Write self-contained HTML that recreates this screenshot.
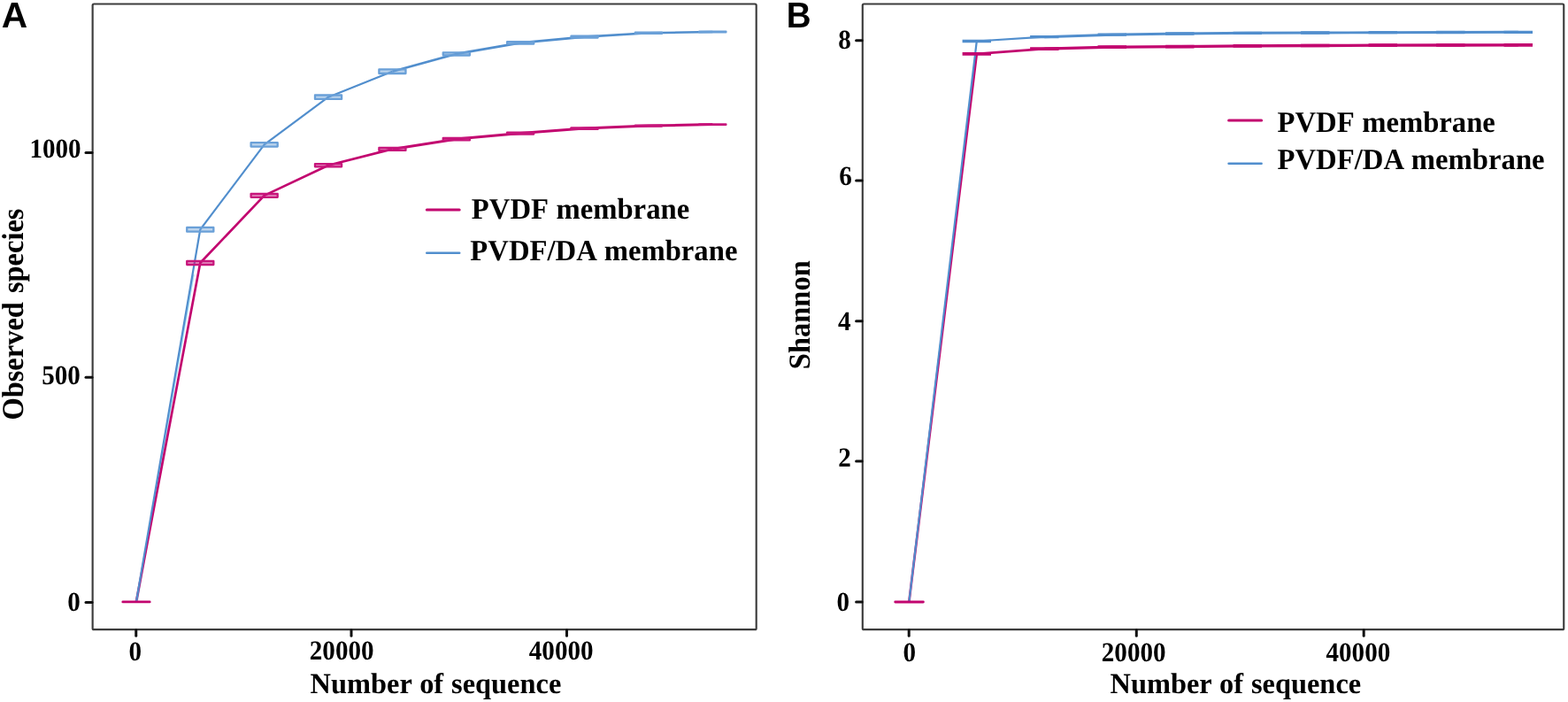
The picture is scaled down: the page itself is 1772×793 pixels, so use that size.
<!DOCTYPE html>
<html lang="en"><head><meta charset="utf-8"><title>Rarefaction curves</title>
<style>
html,body{margin:0;padding:0;background:#fff;}
body{width:1772px;height:793px;overflow:hidden;}
svg{display:block;filter:blur(0.45px);}
text{text-rendering:geometricPrecision;}
.serif{font-family:"Liberation Serif","DejaVu Serif",serif;font-weight:bold;font-size:100px;fill:#000;}
.sans{font-family:"Liberation Sans","DejaVu Sans",sans-serif;font-weight:bold;font-size:100px;fill:#000;}
</style></head><body>
<svg width="1772" height="793" viewBox="0 0 1772 793">
<rect x="0" y="0" width="1772" height="793" fill="#ffffff"/>
<g id="panelA">
<rect x="104.65" y="4.5" width="750.05" height="706.65" rx="1.5" fill="none" stroke="#3c3c3c" stroke-width="2.15"/>
<line x1="97.0" x2="104.05000000000001" y1="680.4" y2="680.4" stroke="#111" stroke-width="3.0" stroke-linecap="round"/>
<line x1="97.0" x2="104.05000000000001" y1="426.3" y2="426.3" stroke="#111" stroke-width="3.0" stroke-linecap="round"/>
<line x1="97.0" x2="104.05000000000001" y1="172.6" y2="172.6" stroke="#111" stroke-width="3.0" stroke-linecap="round"/>
<line x1="153.75" x2="153.75" y1="711.75" y2="718.2" stroke="#111" stroke-width="3.0" stroke-linecap="round"/>
<line x1="397" x2="397" y1="711.75" y2="718.2" stroke="#111" stroke-width="3.0" stroke-linecap="round"/>
<line x1="640.5" x2="640.5" y1="711.75" y2="718.2" stroke="#111" stroke-width="3.0" stroke-linecap="round"/>
<text class="serif" transform="translate(90.9,689.5) scale(0.2911,0.3090)" text-anchor="end">0</text>
<text class="serif" transform="translate(90.9,434.0) scale(0.2911,0.3090)" text-anchor="end">500</text>
<text class="serif" transform="translate(91.6,178.1) scale(0.2911,0.3090)" text-anchor="end">1000</text>
<text class="serif" transform="translate(152.8,745.5) scale(0.2911,0.3090)" text-anchor="middle">0</text>
<text class="serif" transform="translate(386.2,745.3) scale(0.2911,0.3090)" text-anchor="middle">20000</text>
<text class="serif" transform="translate(634.2,745.3) scale(0.2911,0.3090)" text-anchor="middle">40000</text>
<text class="serif" transform="translate(350.6,783.3) scale(0.3241,0.3270)" text-anchor="start" style="word-spacing:2.47px">Number of sequence</text>
<text class="serif" transform="translate(25.8,474.6) rotate(-90) scale(0.3247,0.3440)" text-anchor="start" style="word-spacing:5.85px">Observed species</text>
<text class="sans" transform="translate(1.8,31.15) scale(0.4070,0.4070)" text-anchor="start">A</text>
<line x1="155.10" y1="678" x2="218.76" y2="310" stroke="#a6e0f6" stroke-width="2"/>
<polyline points="153.90,680.00 226.28,297.00 298.66,220.90 371.04,186.70 443.42,168.40" fill="none" stroke="#C2056F" stroke-width="2.7" stroke-linejoin="round"/>
<polyline points="443.42,168.40 515.80,157.10 588.18,150.60 660.56,145.10 732.94,142.10 805.32,140.60" fill="none" stroke="#C2056F" stroke-width="3.0" stroke-linejoin="round"/>
<polyline points="153.90,680.00 226.28,259.30 298.66,163.40 371.04,109.70 443.42,80.70" fill="none" stroke="#518ECD" stroke-width="2.2" stroke-linejoin="round"/>
<polyline points="443.42,80.70 515.80,60.90 588.18,48.40 660.56,41.60 732.94,37.30 805.32,36.00" fill="none" stroke="#518ECD" stroke-width="2.6" stroke-linejoin="round"/>
<rect x="211.23" y="295.00" width="30.10" height="4.00" fill="#C7157B" fill-opacity="0.45" stroke="#C7157B" stroke-width="2.3" stroke-linejoin="round"/>
<rect x="211.23" y="256.95" width="30.10" height="4.70" fill="#6AA0D8" fill-opacity="0.45" stroke="#6AA0D8" stroke-width="2.3" stroke-linejoin="round"/>
<rect x="283.61" y="219.00" width="30.10" height="3.80" fill="#C7157B" fill-opacity="0.45" stroke="#C7157B" stroke-width="2.3" stroke-linejoin="round"/>
<rect x="283.61" y="161.20" width="30.10" height="4.40" fill="#6AA0D8" fill-opacity="0.45" stroke="#6AA0D8" stroke-width="2.3" stroke-linejoin="round"/>
<rect x="355.99" y="185.10" width="30.10" height="3.20" fill="#C7157B" fill-opacity="0.45" stroke="#C7157B" stroke-width="2.3" stroke-linejoin="round"/>
<rect x="355.99" y="107.50" width="30.10" height="4.40" fill="#6AA0D8" fill-opacity="0.45" stroke="#6AA0D8" stroke-width="2.3" stroke-linejoin="round"/>
<rect x="428.37" y="166.90" width="30.10" height="3.00" fill="#C7157B" fill-opacity="0.45" stroke="#C7157B" stroke-width="2.3" stroke-linejoin="round"/>
<rect x="428.37" y="78.40" width="30.10" height="4.60" fill="#6AA0D8" fill-opacity="0.45" stroke="#6AA0D8" stroke-width="2.3" stroke-linejoin="round"/>
<rect x="500.75" y="155.80" width="30.10" height="2.60" fill="#C7157B" fill-opacity="0.45" stroke="#C7157B" stroke-width="2.3" stroke-linejoin="round"/>
<rect x="500.75" y="59.30" width="30.10" height="3.20" fill="#6AA0D8" fill-opacity="0.45" stroke="#6AA0D8" stroke-width="2.3" stroke-linejoin="round"/>
<rect x="573.13" y="149.60" width="30.10" height="2.00" fill="#C7157B" fill-opacity="0.45" stroke="#C7157B" stroke-width="2.3" stroke-linejoin="round"/>
<rect x="573.13" y="47.20" width="30.10" height="2.40" fill="#6AA0D8" fill-opacity="0.45" stroke="#6AA0D8" stroke-width="2.3" stroke-linejoin="round"/>
<rect x="645.51" y="144.30" width="30.10" height="1.60" fill="#C7157B" fill-opacity="0.45" stroke="#C7157B" stroke-width="2.3" stroke-linejoin="round"/>
<rect x="645.51" y="40.70" width="30.10" height="1.80" fill="#6AA0D8" fill-opacity="0.45" stroke="#6AA0D8" stroke-width="2.3" stroke-linejoin="round"/>
<rect x="717.89" y="141.60" width="30.10" height="1.00" fill="#C7157B" fill-opacity="0.45" stroke="#C7157B" stroke-width="2.3" stroke-linejoin="round"/>
<rect x="717.89" y="36.70" width="30.10" height="1.20" fill="#6AA0D8" fill-opacity="0.45" stroke="#6AA0D8" stroke-width="2.3" stroke-linejoin="round"/>
<rect x="790.27" y="140.30" width="30.10" height="0.60" fill="#C7157B" fill-opacity="0.45" stroke="#C7157B" stroke-width="2.3" stroke-linejoin="round"/>
<rect x="790.27" y="35.60" width="30.10" height="0.80" fill="#6AA0D8" fill-opacity="0.45" stroke="#6AA0D8" stroke-width="2.3" stroke-linejoin="round"/>
<line x1="138.8" x2="169.2" y1="679.9" y2="679.9" stroke="#C2056F" stroke-width="2.8" stroke-linecap="round"/>
<line x1="482.3" x2="519.2" y1="236.9" y2="236.9" stroke="#C2056F" stroke-width="3.0" stroke-linecap="round"/>
<line x1="482.3" x2="519.2" y1="285.7" y2="285.7" stroke="#518ECD" stroke-width="2.6" stroke-linecap="round"/>
<text class="serif" transform="translate(532.8,247.2) scale(0.3270,0.3340)" text-anchor="start" style="word-spacing:4.59px">PVDF membrane</text>
<text class="serif" transform="translate(531.3,293.95) scale(0.3270,0.3340)" text-anchor="start" style="word-spacing:4.59px">PVDF/DA membrane</text>
</g>
<g id="panelB">
<rect x="974.8" y="4.45" width="792.45" height="706.70" rx="1.5" fill="none" stroke="#3c3c3c" stroke-width="2.15"/>
<line x1="967.6" x2="974.1999999999999" y1="680.1" y2="680.1" stroke="#111" stroke-width="3.0" stroke-linecap="round"/>
<line x1="967.6" x2="974.1999999999999" y1="521.0" y2="521.0" stroke="#111" stroke-width="3.0" stroke-linecap="round"/>
<line x1="967.6" x2="974.1999999999999" y1="362.7" y2="362.7" stroke="#111" stroke-width="3.0" stroke-linecap="round"/>
<line x1="967.6" x2="974.1999999999999" y1="204.1" y2="204.1" stroke="#111" stroke-width="3.0" stroke-linecap="round"/>
<line x1="967.6" x2="974.1999999999999" y1="45.75" y2="45.75" stroke="#111" stroke-width="3.0" stroke-linecap="round"/>
<line x1="1027.2" x2="1027.2" y1="711.75" y2="718.2" stroke="#111" stroke-width="3.0" stroke-linecap="round"/>
<line x1="1284.3" x2="1284.3" y1="711.75" y2="718.2" stroke="#111" stroke-width="3.0" stroke-linecap="round"/>
<line x1="1541.2" x2="1541.2" y1="711.75" y2="718.2" stroke="#111" stroke-width="3.0" stroke-linecap="round"/>
<text class="serif" transform="translate(960.1,689.7) scale(0.2911,0.3090)" text-anchor="end">0</text>
<text class="serif" transform="translate(961.8,526.5) scale(0.2911,0.3090)" text-anchor="end">2</text>
<text class="serif" transform="translate(961.5,372.7) scale(0.2911,0.3090)" text-anchor="end">4</text>
<text class="serif" transform="translate(962.85,208.65) scale(0.2911,0.3090)" text-anchor="end">6</text>
<text class="serif" transform="translate(961.7,55.0) scale(0.2911,0.3090)" text-anchor="end">8</text>
<text class="serif" transform="translate(1027.8,746.9) scale(0.2911,0.3090)" text-anchor="middle">0</text>
<text class="serif" transform="translate(1281.2,746.5) scale(0.2911,0.3090)" text-anchor="middle">20000</text>
<text class="serif" transform="translate(1534.9,746.5) scale(0.2911,0.3090)" text-anchor="middle">40000</text>
<text class="serif" transform="translate(1254.5,783.4) scale(0.3241,0.3270)" text-anchor="start" style="word-spacing:2.47px">Number of sequence</text>
<text class="serif" transform="translate(914.5,417.2) rotate(-90) scale(0.3254,0.3440)" text-anchor="start">Shannon</text>
<text class="sans" transform="translate(888.75,31.0) scale(0.3846,0.4070)" text-anchor="start">B</text>
<polyline points="1027.30,680.00 1103.80,60.90 1180.30,55.10" fill="none" stroke="#C2056F" stroke-width="2.7" stroke-linejoin="round"/>
<polyline points="1180.30,55.10 1256.80,53.20 1333.30,52.60 1409.80,51.90 1486.30,51.50 1562.80,51.20 1639.30,51.00 1715.80,50.90" fill="none" stroke="#C2056F" stroke-width="3.3" stroke-linejoin="round"/>
<polyline points="1027.30,680.00 1103.80,46.50 1180.30,41.70" fill="none" stroke="#518ECD" stroke-width="2.2" stroke-linejoin="round"/>
<polyline points="1180.30,41.70 1256.80,39.20 1333.30,38.00 1409.80,37.30 1486.30,37.00 1562.80,36.70 1639.30,36.50 1715.80,36.30" fill="none" stroke="#518ECD" stroke-width="2.9" stroke-linejoin="round"/>
<line x1="1087.60" x2="1120.00" y1="60.90" y2="60.90" stroke="#C2056F" stroke-width="3.7"/>
<line x1="1087.60" x2="1120.00" y1="46.50" y2="46.50" stroke="#518ECD" stroke-width="3.3"/>
<line x1="1164.10" x2="1196.50" y1="55.10" y2="55.10" stroke="#C2056F" stroke-width="3.7"/>
<line x1="1164.10" x2="1196.50" y1="41.70" y2="41.70" stroke="#518ECD" stroke-width="3.3"/>
<line x1="1240.60" x2="1273.00" y1="53.20" y2="53.20" stroke="#C2056F" stroke-width="3.7"/>
<line x1="1240.60" x2="1273.00" y1="39.20" y2="39.20" stroke="#518ECD" stroke-width="3.3"/>
<line x1="1317.10" x2="1349.50" y1="52.60" y2="52.60" stroke="#C2056F" stroke-width="3.7"/>
<line x1="1317.10" x2="1349.50" y1="38.00" y2="38.00" stroke="#518ECD" stroke-width="3.3"/>
<line x1="1393.60" x2="1426.00" y1="51.90" y2="51.90" stroke="#C2056F" stroke-width="3.7"/>
<line x1="1393.60" x2="1426.00" y1="37.30" y2="37.30" stroke="#518ECD" stroke-width="3.3"/>
<line x1="1470.10" x2="1502.50" y1="51.50" y2="51.50" stroke="#C2056F" stroke-width="3.7"/>
<line x1="1470.10" x2="1502.50" y1="37.00" y2="37.00" stroke="#518ECD" stroke-width="3.3"/>
<line x1="1546.60" x2="1579.00" y1="51.20" y2="51.20" stroke="#C2056F" stroke-width="3.7"/>
<line x1="1546.60" x2="1579.00" y1="36.70" y2="36.70" stroke="#518ECD" stroke-width="3.3"/>
<line x1="1623.10" x2="1655.50" y1="51.00" y2="51.00" stroke="#C2056F" stroke-width="3.7"/>
<line x1="1623.10" x2="1655.50" y1="36.50" y2="36.50" stroke="#518ECD" stroke-width="3.3"/>
<line x1="1699.60" x2="1732.00" y1="50.90" y2="50.90" stroke="#C2056F" stroke-width="3.7"/>
<line x1="1699.60" x2="1732.00" y1="36.30" y2="36.30" stroke="#518ECD" stroke-width="3.3"/>
<line x1="1011.7" x2="1043.4" y1="680.0" y2="680.0" stroke="#C2056F" stroke-width="2.8" stroke-linecap="round"/>
<line x1="1388.6" x2="1425.6" y1="135.95" y2="135.95" stroke="#C2056F" stroke-width="3.0" stroke-linecap="round"/>
<line x1="1388.6" x2="1425.6" y1="184.75" y2="184.75" stroke="#518ECD" stroke-width="2.6" stroke-linecap="round"/>
<text class="serif" transform="translate(1443.5,148.85) scale(0.3270,0.3340)" text-anchor="start" style="word-spacing:4.59px">PVDF membrane</text>
<text class="serif" transform="translate(1443.5,191.3) scale(0.3270,0.3340)" text-anchor="start" style="word-spacing:4.59px">PVDF/DA membrane</text>
</g>
</svg></body></html>
